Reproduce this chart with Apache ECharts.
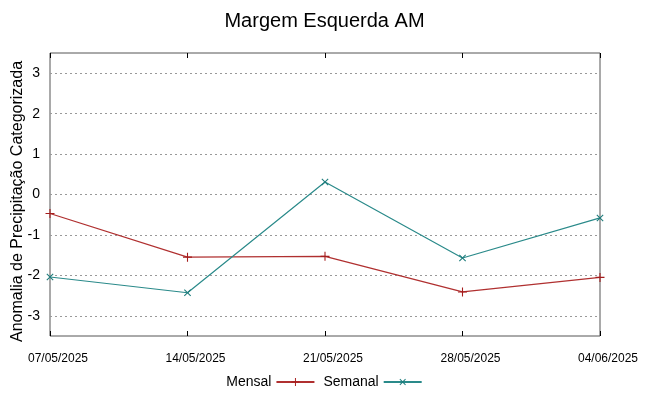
<!DOCTYPE html>
<html><head><meta charset="utf-8">
<script src="https://cdn.jsdelivr.net/npm/echarts@6/dist/echarts.min.js"></script>
<style>html,body{margin:0;padding:0;background:#fff}#c{width:649px;height:396px}</style>
</head><body><div id="c"></div>
<script>
var dates = ['07/05/2025','14/05/2025','21/05/2025','28/05/2025','04/06/2025'];
var mensal = [-0.47, -1.55, -1.53, -2.41, -2.05];
var semanal = [-2.04, -2.43, 0.31, -1.57, -0.58];
var yTicks = [-3, -2, -1, 0, 1, 2, 3];

var plus = 'path://M0,4.4L10,4.4L10,5.6L0,5.6ZM4.4,0L5.6,0L5.6,10L4.4,10Z';
var FONT = 'Liberation Sans';
var chart = echarts.init(document.getElementById('c'));
chart.setOption({
  animation: false,
  backgroundColor: '#fff',
  title: { text: 'Margem Esquerda AM', left: 'center', top: 6,
    textStyle: { fontFamily: FONT, fontSize: 20, fontWeight: 'normal', color: '#000' } },
  grid: { left: 50, right: 49, top: 53, bottom: 60, show: true, borderColor: '#555', borderWidth: 1,
    containLabel: false, outerBoundsMode: 'none' },
  legend: { bottom: 2, left: 'center', align: 'right', itemWidth: 38, itemHeight: 10, itemGap: 8,
    textStyle: { fontFamily: FONT, fontSize: 14, color: '#000' },
    data: ['Mensal', 'Semanal'] },
  xAxis: [
    { type: 'category', data: dates, boundaryGap: false, position: 'bottom',
      axisLine: { show: false, onZero: false }, axisTick: { inside: true, length: 5, lineStyle: { color: '#000' } },
      axisLabel: { fontFamily: FONT, fontSize: 12, color: '#000', margin: 17, interval: 0, padding: [0, 0, 0, 16] },
      splitLine: { show: false } },
    { type: 'category', data: dates, boundaryGap: false, position: 'top',
      axisLine: { show: false, onZero: false }, axisTick: { inside: true, length: 5, lineStyle: { color: '#000' } },
      axisLabel: { show: false }, splitLine: { show: false } }
  ],
  yAxis: [
    { type: 'value', min: -3.5, max: 3.5, position: 'left',
      name: 'Anomalia de Precipitação Categorizada', nameLocation: 'middle', nameGap: 24,
      nameMoveOverlap: false,
      nameTextStyle: { fontFamily: FONT, fontSize: 16, color: '#000', padding: [0, 14, 0, 0] },
      axisLine: { show: false, onZero: false },
      axisTick: { inside: true, length: 5, customValues: yTicks, lineStyle: { color: '#000' } },
      axisLabel: { fontFamily: FONT, fontSize: 14, color: '#000', margin: 10, customValues: yTicks },
      splitLine: { show: true, lineStyle: { type: [2, 3], color: '#999', width: 1 } } },
    { type: 'value', min: -3.5, max: 3.5, position: 'right',
      axisLine: { show: false, onZero: false },
      axisTick: { inside: true, length: 5, customValues: yTicks, lineStyle: { color: '#000' } },
      axisLabel: { show: false }, splitLine: { show: false } }
  ],
  series: [
    { name: 'Mensal', type: 'line', data: mensal, symbol: plus, symbolSize: 9,
      itemStyle: { color: '#a51c1c' }, lineStyle: { color: '#b03030', width: 1.3 } },
    { name: 'Semanal', type: 'line', data: semanal, symbol: plus, symbolRotate: 45, symbolSize: 9,
      itemStyle: { color: '#1d7c7c' }, lineStyle: { color: '#2a8a8a', width: 1.2 } }
  ]
});
</script></body></html>
